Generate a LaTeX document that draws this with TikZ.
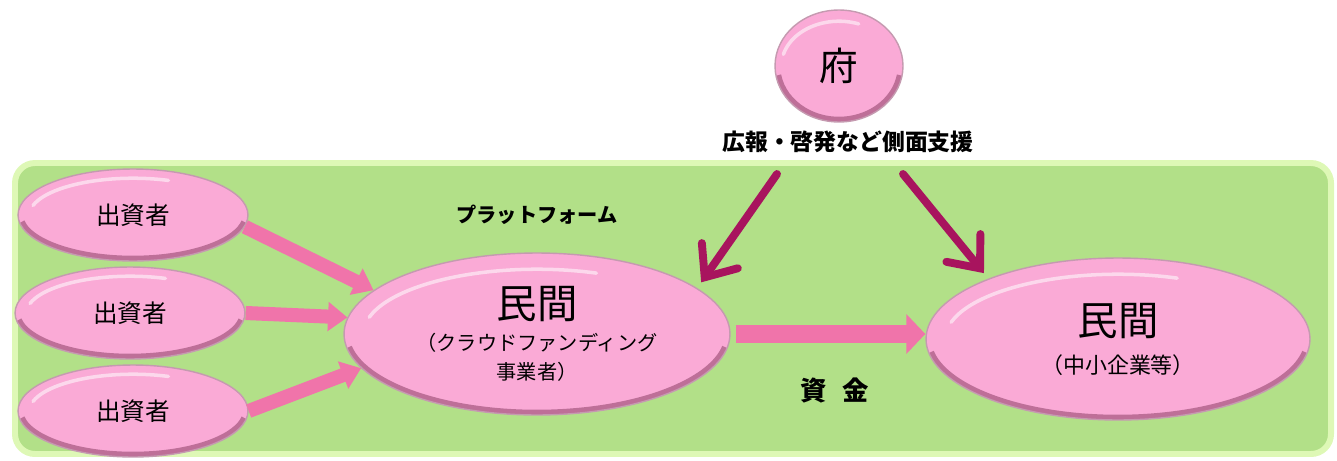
\documentclass[tikz,border=0pt]{standalone}
\usepackage{fontspec}
\setmainfont{Noto Sans CJK JP}
\usetikzlibrary{shapes.geometric}
\usetikzlibrary{arrows.meta}
\usetikzlibrary{calc}
\usetikzlibrary{positioning}
\definecolor{platform}{RGB}{178,224,136}
\definecolor{platformedge}{RGB}{222,248,182}
\definecolor{bubblefill}{RGB}{250,170,214}
\definecolor{bubblerim}{RGB}{150,72,112}
\definecolor{flowpink}{RGB}{240,116,170}
\definecolor{support}{RGB}{168,20,94}
\newcommand{\fsize}[1]{\fontsize{#1}{1.2\dimexpr#1\relax}\selectfont}
\tikzset{
	bubble/.style={ellipse, fill=bubblefill, draw=bubblerim!55, line width=0.8pt,
		inner sep=0pt, align=center,
		path picture={
			\draw[bubblerim, line width=6pt, opacity=0.6]
			let \p1=($(path picture bounding box.north east)-(path picture bounding box.center)$) in
			($(path picture bounding box.center)+(190:{\x1} and {\y1})$)
			arc[start angle=190, end angle=350, x radius=\x1, y radius=\y1];
			\draw[white, line width=2pt, opacity=0.55, line cap=round]
			let \p1=($(path picture bounding box.north east)-(path picture bounding box.center)$) in
			($(path picture bounding box.center)+(165:{0.9*\x1} and {0.8*\y1})$)
			arc[start angle=165, end angle=70, x radius=0.9*\x1, y radius=0.8*\y1];
	}},
	investor/.style={bubble, minimum width=4.6cm, minimum height=1.84cm, font=\fsize{14pt}},
	flow/.style={draw=flowpink, line width=8pt, -{Triangle[length=11pt, width=16pt]}},
	bigflow/.style={draw=flowpink, line width=10.8pt, -{Triangle[length=10.8pt, width=22pt]}},
	backing/.style={draw=support, line width=4.5pt, line cap=round, shorten >=4pt,
		-{Straight Barb[length=15pt, width=25pt, line cap=round]}},
	caption/.style={font=\bfseries\fsize{#1}}
}

\begin{document}
\begin{tikzpicture}[x=0.02cm, y=-0.02cm]
\useasboundingbox (0,0) rectangle (1337,460);

% platform
\filldraw[fill=platform, draw=platformedge, line width=3.4pt, rounded corners=0.4cm] (15,163) rectangle (1331,454);
\node[caption=11.5pt] (platformlabel) at (537,215) {プラットフォーム};

% government
\node[bubble, minimum width=2.56cm, minimum height=2.24cm, font=\fsize{22pt}] (gov) at (839,66) {府};
\node[caption=13pt] (govlabel) at (848,142) {広報・啓発など側面支援};

% investors
\node[investor] (inv1) at (133,215) {出資者};
\node[investor] (inv2) at (130,313) {出資者};
\node[investor] (inv3) at (133,411) {出資者};

% private sector
\node[bubble, minimum width=7.72cm, minimum height=3.24cm] (crowd) at (537,334)
	{\fsize{23pt}民間\\[6pt] \fsize{11.5pt}（クラウドファンディング\\[5pt] \fsize{11.5pt}事業者）};
\node[bubble, minimum width=7.68cm, minimum height=3.24cm] (firm) at (1118,339)
	{\fsize{23pt}民間\\[8pt] \fsize{12.5pt}（中小企業等）};

% funds
\draw[flow] (inv1.-6) -- (crowd.165);
\draw[flow] (inv2.east) -- (crowd.175);
\draw[flow] (inv3.east) -- (crowd.191);
\draw[bigflow] ([xshift=3pt]crowd.east) -- (crowd.east -| firm.west);
\node[caption=15pt] (fundslabel) at (835,390) {資\hspace{0.6em}金};

% support
\coordinate (supportleft) at (777,174);
\coordinate (supportright) at (903,174);
\draw[backing] (supportleft) -- (crowd.16);
\draw[backing] (supportright) -- (firm.155);
\end{tikzpicture}
\end{document}
